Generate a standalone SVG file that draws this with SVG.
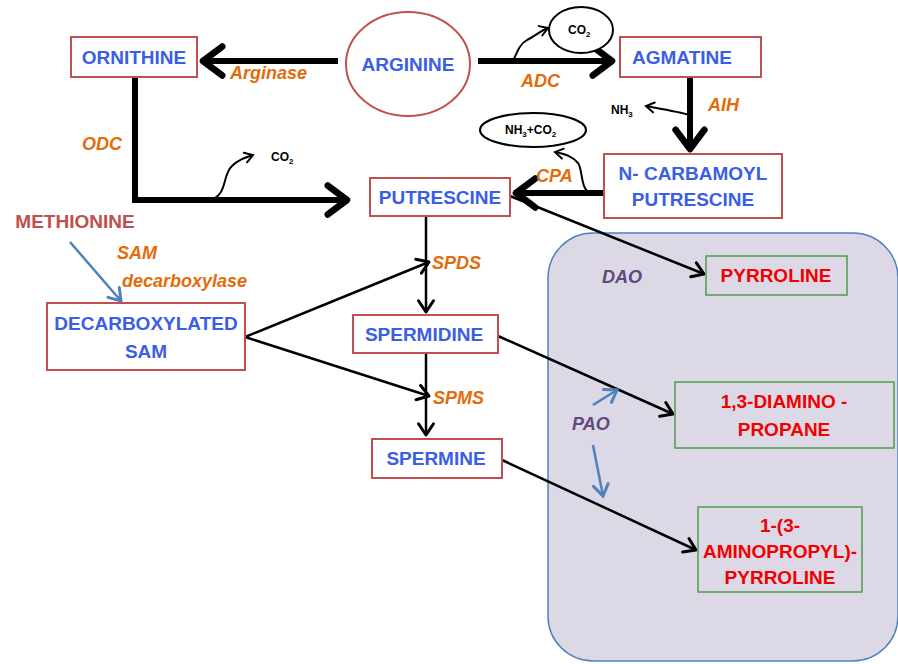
<svg xmlns="http://www.w3.org/2000/svg" width="898" height="664" viewBox="0 0 898 664">
<defs>
<style>
.node{fill:#fff;stroke:#c0504d;stroke-width:2}
.gnode{fill:none;stroke:#4f9a4f;stroke-width:1.5}
.t{font-family:"Liberation Sans",Arial,sans-serif;font-weight:bold;font-size:19px;fill:#3b5ee6;text-anchor:middle}
.r{font-family:"Liberation Sans",Arial,sans-serif;font-weight:bold;font-size:19px;fill:#f00000;text-anchor:middle}
.enz{font-family:"Liberation Sans",Arial,sans-serif;font-weight:bold;font-style:italic;font-size:18px;fill:#e36c09}
.ox{font-family:"Liberation Sans",Arial,sans-serif;font-weight:bold;font-style:italic;font-size:18px;fill:#5f497a}
.sm{font-family:"Liberation Sans",Arial,sans-serif;font-weight:bold;font-size:12px;fill:#000}
.thick{stroke:#000;stroke-width:6;fill:none}
.thin{stroke:#000;stroke-width:2.5;fill:none}
.curve{stroke:#000;stroke-width:2;fill:none}
.blue{stroke:#4f81bd;stroke-width:2.5;fill:none}
</style>
<marker id="hb" markerWidth="5" markerHeight="6" refX="3.8" refY="3" orient="auto" markerUnits="strokeWidth"><path d="M0.6,0.6 L3.8,3 L0.6,5.4" fill="none" stroke="#000" stroke-width="1.1" stroke-linecap="round" stroke-linejoin="round"/></marker>
<marker id="ht" markerWidth="7" markerHeight="8" refX="5.5" refY="4" orient="auto" markerUnits="strokeWidth"><path d="M1,1 L5.5,4 L1,7" fill="none" stroke="#000" stroke-width="1.2" stroke-linecap="round" stroke-linejoin="round"/></marker>
<marker id="hc" markerWidth="6" markerHeight="7" refX="5" refY="3.5" orient="auto" markerUnits="strokeWidth"><path d="M1,1 L5,3.5 L1,6" fill="none" stroke="#000" stroke-width="1" stroke-linecap="round"/></marker>
<marker id="hbl" markerWidth="7" markerHeight="8" refX="5.5" refY="4" orient="auto" markerUnits="strokeWidth"><path d="M1,1 L5.5,4 L1,7" fill="none" stroke="#4f81bd" stroke-width="1.2" stroke-linecap="round"/></marker>
</defs>
<rect width="898" height="664" fill="#fff"/>
<rect id="oxidase-region" x="548" y="233" width="350" height="428" rx="45" fill="#dcd8e6" stroke="#4f81bd" stroke-width="1.5"/>

<g id="connectors">
<line class="thick" x1="338" y1="61" x2="203" y2="61" marker-end="url(#hb)"/>
<line class="thick" x1="478" y1="61" x2="612" y2="61" marker-end="url(#hb)"/>
<path class="thick" d="M135,77 V200 H347" marker-end="url(#hb)"/>
<line class="thick" x1="690" y1="77" x2="690" y2="149" marker-end="url(#hb)"/>
<line class="thick" x1="604" y1="193" x2="516" y2="193" marker-end="url(#hb)"/>
<path class="curve" d="M210,200 C228,195 222,175 232,166 C238,160 244,158 253,155" marker-end="url(#hc)"/>
<path class="curve" d="M513,61 C518,50 520,44 527,40 C535,36 540,31 548,28" marker-end="url(#hc)"/>
<path class="curve" d="M690,115 C680,112 668,110 646,106" marker-end="url(#hc)"/>
<path class="curve" d="M590,193 C580,188 583,170 578,163 C572,156 565,154 555,152" marker-end="url(#hc)"/>
<line class="thin" x1="426" y1="216" x2="426" y2="312" marker-end="url(#ht)"/>
<line class="thin" x1="426" y1="353" x2="426" y2="435" marker-end="url(#ht)"/>
<line class="thin" x1="245" y1="337" x2="429" y2="262" marker-end="url(#ht)"/>
<line class="thin" x1="245" y1="337" x2="429" y2="396" marker-end="url(#ht)"/>
<line class="thin" x1="510" y1="196" x2="704" y2="274" marker-end="url(#ht)"/>
<line class="thin" x1="498" y1="336" x2="673" y2="414" marker-end="url(#ht)"/>
<line class="thin" x1="502" y1="460" x2="696" y2="550" marker-end="url(#ht)"/>
<line class="blue" x1="70" y1="242" x2="121" y2="301" marker-end="url(#hbl)"/>
<line class="blue" x1="593" y1="405" x2="617" y2="390" marker-end="url(#hbl)"/>
<line class="blue" x1="593" y1="445" x2="603" y2="496" marker-end="url(#hbl)"/>
</g>

<g id="ornithine"><rect class="node" x="71" y="37" width="126" height="40"/><text class="t" x="134" y="64">ORNITHINE</text></g>
<g id="arginine"><ellipse cx="408" cy="64" rx="62" ry="52" fill="#fff" stroke="#c0504d" stroke-width="2"/><text class="t" x="408" y="71">ARGININE</text></g>
<g id="agmatine"><rect class="node" x="620" y="37" width="141" height="40"/><text class="t" x="682" y="64">AGMATINE</text></g>
<g id="co2-top"><ellipse cx="581" cy="30" rx="32" ry="23" fill="#fff" stroke="#000" stroke-width="2"/><text class="sm" x="568" y="34">CO<tspan font-size="8" dy="3">2</tspan></text></g>
<g id="nh3"><text class="sm" x="611" y="114">NH<tspan font-size="8" dy="3">3</tspan></text></g>
<g id="nh3co2"><ellipse cx="533" cy="130" rx="53" ry="17" fill="#fff" stroke="#000" stroke-width="2"/><text class="sm" x="505" y="134">NH<tspan font-size="8" dy="3">3</tspan><tspan dy="-3">+CO</tspan><tspan font-size="8" dy="3">2</tspan></text></g>
<g id="co2-left"><text class="sm" x="271" y="161">CO<tspan font-size="8" dy="3">2</tspan></text></g>
<g id="ncarbamoyl"><rect class="node" x="604" y="154" width="178" height="64"/><text class="t" x="693" y="180">N- CARBAMOYL</text><text class="t" x="693" y="206">PUTRESCINE</text></g>
<g id="putrescine"><rect class="node" x="370" y="178" width="140" height="38"/><text class="t" x="440" y="204">PUTRESCINE</text></g>
<g id="methionine"><text x="75" y="228" font-family="Liberation Sans,Arial,sans-serif" font-weight="bold" font-size="19" fill="#c0504d" text-anchor="middle">METHIONINE</text></g>
<g id="dsam"><rect class="node" x="47" y="303" width="198" height="67"/><text class="t" x="146" y="330">DECARBOXYLATED</text><text class="t" x="146" y="358">SAM</text></g>
<g id="spermidine"><rect class="node" x="353" y="315" width="145" height="38"/><text class="t" x="424" y="341">SPERMIDINE</text></g>
<g id="spermine"><rect class="node" x="372" y="439" width="130" height="39"/><text class="t" x="436" y="465">SPERMINE</text></g>
<g id="pyrroline"><rect class="gnode" x="706" y="256" width="141" height="39"/><text class="r" x="776" y="282">PYRROLINE</text></g>
<g id="diaminopropane"><rect class="gnode" x="675" y="382" width="219" height="66"/><text class="r" x="784" y="408">1,3-DIAMINO -</text><text class="r" x="784" y="436">PROPANE</text></g>
<g id="aminopropylpyrroline"><rect class="gnode" x="698" y="507" width="164" height="85"/><text class="r" x="780" y="532">1-(3-</text><text class="r" x="780" y="558">AMINOPROPYL)-</text><text class="r" x="780" y="584">PYRROLINE</text></g>

<g id="labels">
<text class="enz" x="230" y="79">Arginase</text>
<text class="enz" x="521" y="87">ADC</text>
<text class="enz" x="708" y="111">AIH</text>
<text class="enz" x="536" y="182">CPA</text>
<text class="enz" x="82" y="150">ODC</text>
<text class="enz" x="117" y="259">SAM</text>
<text class="enz" x="122" y="287">decarboxylase</text>
<text class="enz" x="432" y="269">SPDS</text>
<text class="enz" x="433" y="404">SPMS</text>
<text class="ox" x="602" y="283">DAO</text>
<text class="ox" x="572" y="430">PAO</text>
</g>
</svg>
